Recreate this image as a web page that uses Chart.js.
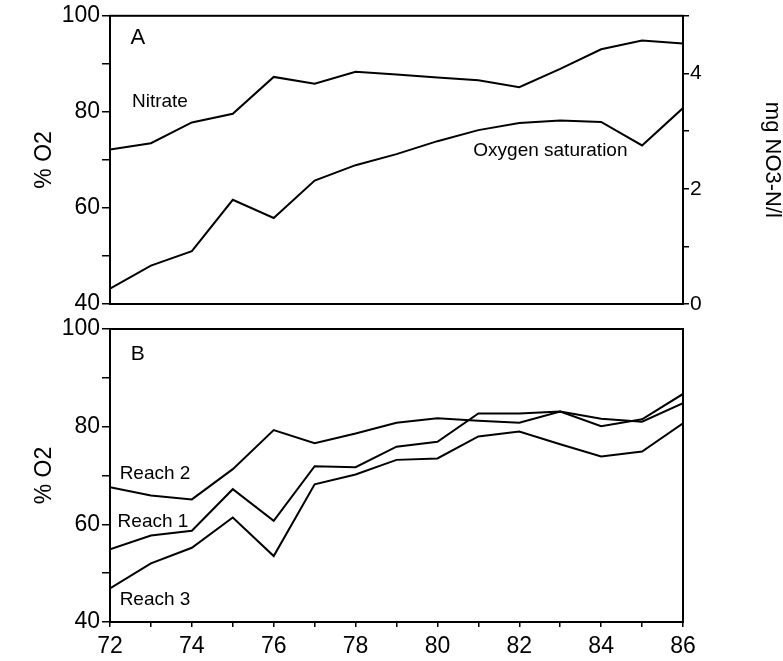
<!DOCTYPE html>
<html>
<head>
<meta charset="utf-8">
<script src="https://cdn.jsdelivr.net/npm/chart.js@4.4.1/dist/chart.umd.min.js"></script>
<style>
  html, body { margin: 0; padding: 0; background: #fff; }
  #wrap { position: relative; width: 783px; height: 661px; }
  canvas { position: absolute; left: 0; }
  #chartA { top: 0; }
  #chartB { top: 310px; }
</style>
</head>
<body>
<div id="wrap">
  <canvas id="chartA" width="783" height="320"></canvas>
  <canvas id="chartB" width="783" height="351"></canvas>
</div>
<script>
// years (19xx)
const years = [72, 73, 74, 75, 76, 77, 78, 79, 80, 81, 82, 83, 84, 85, 86];

// panel A
const nitrate = [2.68, 2.79, 3.15, 3.30, 3.94, 3.82, 4.03, 3.98, 3.93, 3.88, 3.76, 4.08, 4.42, 4.57, 4.52];
const oxygenSat = [43.2, 48.0, 51.0, 61.7, 57.9, 65.7, 68.9, 71.2, 73.9, 76.2, 77.7, 78.2, 77.9, 73.0, 80.8];

// panel B
const reach1 = [54.9, 57.7, 58.7, 67.2, 60.7, 71.9, 71.7, 75.9, 76.9, 82.7, 82.7, 83.1, 80.1, 81.5, 86.7];
const reach2 = [67.6, 65.9, 65.1, 71.3, 79.3, 76.6, 78.6, 80.8, 81.7, 81.2, 80.8, 83.1, 81.6, 81.0, 84.8];
const reach3 = [46.9, 52.0, 55.2, 61.4, 53.5, 68.2, 70.2, 73.2, 73.5, 78.0, 79.0, 76.4, 73.9, 74.9, 80.7];

// text labels inside the panels (data units)
const notesA = [
  { text: 'A', x: 72.68, y: 95.4, size: 22 },
  { text: 'Nitrate', x: 73.22, y: 82.2, size: 19 },
  { text: 'Oxygen saturation', x: 82.76, y: 71.9, size: 19 }
];
const notesB = [
  { text: 'B', x: 72.68, y: 94.9, size: 21 },
  { text: 'Reach 2', x: 73.1, y: 70.3, size: 19 },
  { text: 'Reach 1', x: 73.05, y: 60.5, size: 19 },
  { text: 'Reach 3', x: 73.1, y: 44.5, size: 19 }
];

const FONT = '"Liberation Sans", Arial, Helvetica, sans-serif';

Chart.defaults.font.family = FONT;
Chart.defaults.color = '#000';

const toPoints = vals => years.map((yr, i) => ({ x: yr, y: vals[i] }));

const lineSet = (label, vals, axis = 'y') => ({
  label,
  data: toPoints(vals),
  yAxisID: axis,
  borderColor: '#000',
  borderWidth: 2,
  pointRadius: 0,
  tension: 0,
  fill: false
});

// box around the plot area
const framePlugin = {
  id: 'frame',
  beforeDatasetsDraw(chart) {
    const { ctx, chartArea: a } = chart;
    ctx.save();
    ctx.strokeStyle = '#000';
    ctx.lineWidth = 2;
    ctx.strokeRect(a.left, a.top, a.right - a.left, a.bottom - a.top);
    ctx.restore();
  }
};

const notesPlugin = {
  id: 'notes',
  afterDatasetsDraw(chart, args, opts) {
    const { ctx, scales } = chart;
    ctx.save();
    ctx.fillStyle = '#000';
    ctx.textAlign = 'center';
    ctx.textBaseline = 'middle';
    for (const n of opts.items || []) {
      ctx.font = `${n.size}px ${FONT}`;
      ctx.fillText(n.text, scales.x.getPixelForValue(n.x), scales.y.getPixelForValue(n.y));
    }
    ctx.restore();
  }
};

const tickGrid = len => ({
  drawOnChartArea: false,
  drawTicks: true,
  tickLength: len,
  color: '#000',
  lineWidth: 1.5
});

const pctAxis = () => ({
  type: 'linear',
  position: 'left',
  min: 40,
  max: 100,
  afterFit: s => { s.width = 110; },
  ticks: {
    stepSize: 10,
    autoSkip: false,
    padding: 2,
    font: { size: 23 },
    callback: v => (v % 20 === 0 ? v : '')
  },
  grid: tickGrid(8),
  border: { display: false },
  title: {
    display: true,
    text: '% O2',
    font: { size: 23 },
    padding: { top: 31, bottom: 0 }
  }
});

new Chart(document.getElementById('chartA'), {
  type: 'line',
  data: {
    datasets: [
      lineSet('Nitrate', nitrate, 'y2'),
      lineSet('Oxygen saturation', oxygenSat, 'y')
    ]
  },
  options: {
    responsive: false,
    animation: false,
    layout: { padding: { top: 14, bottom: 16 } },
    plugins: {
      legend: { display: false },
      tooltip: { enabled: false },
      notes: { items: notesA }
    },
    scales: {
      x: { type: 'linear', display: false, min: 72, max: 86 },
      y: pctAxis(),
      y2: {
        type: 'linear',
        position: 'right',
        min: 0,
        max: 5,
        afterFit: s => { s.width = 100; },
        ticks: {
          stepSize: 1,
          autoSkip: false,
          padding: 1,
          font: { size: 21 },
          callback: v => (v % 2 === 0 ? v : '')
        },
        grid: tickGrid(6),
        border: { display: false },
        title: {
          display: true,
          text: 'mg NO3-N/l',
          font: { size: 22, lineHeight: 1 },
          padding: { top: 0, bottom: 0 }
        }
      }
    }
  },
  plugins: [framePlugin, notesPlugin]
});

new Chart(document.getElementById('chartB'), {
  type: 'line',
  data: {
    datasets: [
      lineSet('Reach 1', reach1),
      lineSet('Reach 2', reach2),
      lineSet('Reach 3', reach3)
    ]
  },
  options: {
    responsive: false,
    animation: false,
    layout: { padding: { top: 19, right: 100 } },
    plugins: {
      legend: { display: false },
      tooltip: { enabled: false },
      notes: { items: notesB }
    },
    scales: {
      x: {
        type: 'linear',
        min: 72,
        max: 86,
        afterFit: s => { s.height = 39; },
        ticks: {
          stepSize: 1,
          autoSkip: false,
          maxRotation: 0,
          padding: 6,
          font: { size: 23 },
          callback: v => (v % 2 === 0 ? v : '')
        },
        grid: tickGrid(5),
        border: { display: false }
      },
      y: pctAxis()
    }
  },
  plugins: [framePlugin, notesPlugin]
});
</script>
</body>
</html>
